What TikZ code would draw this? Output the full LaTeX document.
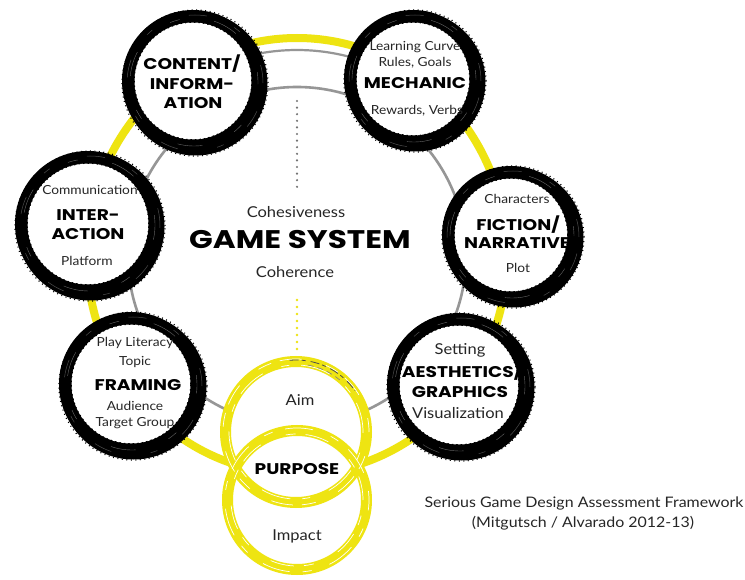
\documentclass[tikz,border=0pt]{standalone}
\usepackage{fontspec}
\setmainfont{Lato}[FakeStretch=1.1]
\newfontfamily\capsfont{Poppins}[FakeStretch=1.2]
\newfontfamily\bigfont{Poppins}[FakeStretch=1.22]
\definecolor{yel}{RGB}{238,228,18}
\definecolor{ringgray}{RGB}{150,150,150}
\tikzset{
  % black brush-stroke ring with white face; #1 = outer radius
  brush/.pic={
    \fill[black] (1.5,1.5) circle ({#1*1pt});
    \fill[black] (-1,-1) circle ({(#1-1)*1pt});
    \draw[black, line width=1.2pt, dash pattern=on 1pt off 3.5pt] (1,1) circle ({(#1+1)*1pt});
    \draw[black!70, line width=0.5pt, dash pattern=on 18pt off 40pt on 7pt off 30pt] (1,1) circle ({(#1-4)*1pt});
    \draw[black!60, line width=0.4pt, dash pattern=on 10pt off 45pt on 25pt off 35pt] (0,0) circle ({(#1-8)*1pt});
    \fill[white] (-1,-1) circle ({(#1-13.5)*1pt});
    \draw[black, line width=1.2pt, dash pattern=on 1.5pt off 3pt] (-1,-1) circle ({(#1-13.2)*1pt});
  },
  hub/.style={circle, inner sep=0pt, minimum size=146pt},
  lbl/.style={font=\fontsize{12.5}{12.5}\selectfont, inner sep=0pt, text=black!85},
  ttl/.style={font=\capsfont\bfseries\fontsize{15.5}{15.5}\selectfont, inner sep=0pt},
  big/.style={font=\bigfont\bfseries\fontsize{25.5}{25.5}\selectfont, inner sep=0pt},
  mid/.style={font=\fontsize{15}{15}\selectfont, inner sep=0pt, text=black!85},
  yring/.style={yel, line width=11pt},
  ystreak/.style={white, line width=0.7pt},
}
\begin{document}
\begin{tikzpicture}[x=1pt,y=-1pt]
\useasboundingbox[fill=white] (0,0) rectangle (745,580);

% outer yellow ring and inner gray ring linking the elements
\coordinate (hubc) at (297,256);
\draw[yel, line width=8pt] (hubc) ellipse [x radius=210pt, y radius=218pt];
\draw[ringgray, line width=2.6pt] (hubc) circle (169pt);
\draw[ringgray, line width=2.2pt] (hubc) ++(115:206pt) arc[start angle=115, end angle=65, radius=206pt];

% element positions
\node[hub] (content) at (194,82) {};
\node[hub] (mechanic) at (414,80) {};
\node[hub] (interaction) at (89,225) {};
\node[hub] (fiction) at (512,236) {};
\node[hub] (framing) at (132,385) {};
\node[hub] (aesthetics) at (460,386) {};

% dotted guides through the centre
\coordinate (dtop) at (297,101);
\coordinate (dbot) at (297,190);
\coordinate (ytop) at (297,300);
\coordinate (ybot) at (297,352);
\draw[black!55, line width=2.4pt, line cap=round, dash pattern=on 0pt off 6.6pt] (dtop) -- (dbot);
\draw[yel, line width=2.6pt, line cap=round, dash pattern=on 0pt off 7pt] (ytop) -- (ybot);

% brush rings
\pic at (content) {brush=72};
\pic at (mechanic) {brush=70};
\pic at (interaction) {brush=74};
\pic at (fiction) {brush=70};
\pic at (framing) {brush=73};
\pic at (aesthetics) {brush=73};

% purpose: two interlinked yellow rings
\node[circle, inner sep=0pt, minimum size=152pt] (aim) at (296,432) {};
\node[circle, inner sep=0pt, minimum size=150pt] (impact) at (297,500) {};
\fill[white] (aim) circle (70pt);
\fill[white] (impact) circle (69pt);
\draw[yring] (aim) circle (70.5pt);
\draw[yring] (impact) circle (69.5pt);
\draw[ystreak, dash pattern=on 30pt off 12pt on 8pt off 20pt] (aim) circle (67pt);
\draw[ystreak, dash pattern=on 14pt off 25pt on 22pt off 9pt] (aim) circle (73pt);
\draw[ystreak, dash pattern=on 24pt off 10pt on 10pt off 27pt] (impact) circle (66pt);
\draw[ystreak, dash pattern=on 9pt off 19pt on 28pt off 13pt] (impact) circle (72pt);
\draw[black!70, line width=0.8pt, dash pattern=on 9pt off 3pt on 4pt off 5pt] (aim) ++(95:72pt) arc[start angle=95, end angle=35, radius=72pt];
\draw[black!50, line width=0.6pt, dash pattern=on 6pt off 4pt] (aim) ++(80:68pt) arc[start angle=80, end angle=50, radius=68pt];

% centre text
\node[mid] (cohesive) at (296,212) {Cohesiveness};
\node[big] (gamesys) at (300,240) {GAME SYSTEM};
\node[mid] (coherent) at (295,272) {Coherence};

% content / information
\node[ttl] (c1) at (192,64) {CONTENT/};
\node[ttl] (c2) at (192,84) {INFORM-};
\node[ttl] (c3) at (193,103) {ATION};

% mechanic
\node[lbl] (m1) at (415,47) {Learning Curve};
\node[lbl] (m2) at (415,63) {Rules, Goals};
\node[ttl] (m3) at (415,83) {MECHANIC};
\node[lbl] (m4) at (417,111) {Rewards, Verbs};

% interaction
\node[lbl] (i1) at (90,190) {Communication};
\node[ttl] (i2) at (88,215) {INTER-};
\node[ttl] (i3) at (88,234) {ACTION};
\node[lbl] (i4) at (87,261) {Platform};

% fiction / narrative
\node[lbl] (f1) at (517,199) {Characters};
\node[ttl] (f2) at (518,225) {FICTION/};
\node[ttl] (f3) at (517,243) {NARRATIVE};
\node[lbl] (f4) at (518,268) {Plot};

% aesthetics / graphics
\node[mid] (a1) at (460,350) {Setting};
\node[ttl] (a2) at (462,372) {AESTHETICS/};
\node[ttl] (a3) at (460,392) {GRAPHICS};
\node[mid] (a4) at (458,413) {Visualization};

% framing
\node[lbl] (r1) at (135,343) {Play Literacy};
\node[lbl] (r2) at (135,362) {Topic};
\node[ttl] (r3) at (138,385) {FRAMING};
\node[lbl] (r4) at (135,406) {Audience};
\node[lbl] (r5) at (135,423) {Target Group};

% purpose
\node[mid] (p1) at (300,400) {Aim};
\node[ttl] (p2) at (297,469) {PURPOSE};
\node[mid] (p3) at (297,536) {Impact};

% caption
\node[mid, font=\fontsize{14.5}{14.5}\selectfont] (cap1) at (584,503) {Serious Game Design Assessment Framework};
\node[mid, font=\fontsize{14.5}{14.5}\selectfont] (cap2) at (583,523) {(Mitgutsch / Alvarado 2012-13)};
\end{tikzpicture}
\end{document}
